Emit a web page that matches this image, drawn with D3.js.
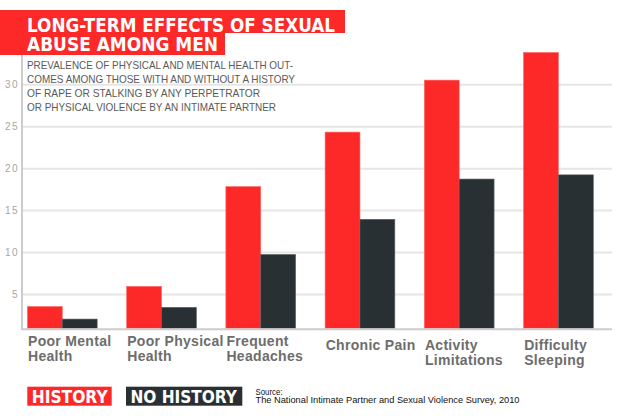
<!DOCTYPE html>
<html>
<head>
<meta charset="utf-8">
<script src="https://cdn.jsdelivr.net/npm/d3@7"></script>
<style>
  html, body { margin: 0; padding: 0; background: #fff; }
  svg { display: block; }
</style>
</head>
<body>
<svg id="chart" width="620" height="420"></svg>
<script>
// ---- data ----
const categories = [
  ["Poor Mental", "Health"],
  ["Poor Physical", "Health"],
  ["Frequent", "Headaches"],
  ["Chronic Pain"],
  ["Activity", "Limitations"],
  ["Difficulty", "Sleeping"]
];
const historyValues   = [3.5, 5.9, 17.8, 24.3, 30.5, 33.8];
const noHistoryValues = [2.0, 3.4, 9.7, 13.9, 18.7, 19.2];
const yTicks = [5, 10, 15, 20, 25, 30];
const seriesNames = ["HISTORY", "NO HISTORY"];
const titleLines = ["LONG-TERM EFFECTS OF SEXUAL", "ABUSE AMONG MEN"];
const subtitleLines = [
  "PREVALENCE OF PHYSICAL AND MENTAL HEALTH OUT-",
  "COMES AMONG THOSE WITH AND WITHOUT A HISTORY",
  "OF RAPE OR STALKING BY ANY PERPETRATOR",
  "OR PHYSICAL VIOLENCE BY AN INTIMATE PARTNER"
];
const sourceLines = ["Source:", "The National Intimate Partner and Sexual Violence Survey, 2010"];

// ---- styles ----
const RED = "#fd2929";
const DARK = "#283034";
const svg = d3.select("#chart");

const keys = categories.map(c => c.join(" "));
const x = d3.scaleBand().domain(keys).range([27.4, 593.3]).paddingInner(0.297).paddingOuter(0);
const xs = d3.scaleBand().domain([0, 1]).range([0, x.bandwidth()]);
const y = d3.scaleLinear().domain([0.9, 30]).range([328.3, 84.3]);

// gridlines + tick labels
const axis = d3.axisLeft(y).tickValues(yTicks).tickSize(-(612 - 22)).tickPadding(4);
const ga = svg.append("g").attr("transform", "translate(22,0)").call(axis);
ga.select(".domain").remove();
ga.selectAll(".tick line").attr("stroke", "#e6e6e6").attr("stroke-width", 2);
ga.selectAll(".tick text")
  .attr("fill", "#a6a6a6")
  .attr("font-family", "Liberation Sans, Arial, sans-serif")
  .attr("font-size", 10)
  .attr("letter-spacing", 1.4)
  .attr("x", -3);

// title bands
svg.append("rect").attr("x", 0).attr("y", 10).attr("width", 345).attr("height", 23).attr("fill", RED);
svg.append("rect").attr("x", 0).attr("y", 32).attr("width", 225).attr("height", 23).attr("fill", RED);
const titleLens = [308, 191];
svg.selectAll(".title").data(titleLines).enter().append("text")
  .attr("x", 27).attr("y", (d, i) => 31.5 + i * 19.5)
  .attr("fill", "#fff")
  .attr("font-family", "DejaVu Sans, sans-serif")
  .attr("font-weight", "bold")
  .attr("font-size", 20)
  .attr("textLength", (d, i) => titleLens[i])
  .attr("lengthAdjust", "spacingAndGlyphs")
  .text(d => d);

// axis vertical line
svg.append("line").attr("x1", 22).attr("x2", 22).attr("y1", 55).attr("y2", 330)
  .attr("stroke", "#cccccc").attr("stroke-width", 2);

// subtitle
const subLens = [266, 268, 233, 249];
svg.selectAll(".sub").data(subtitleLines).enter().append("text")
  .attr("x", 27).attr("y", (d, i) => 69 + i * 14)
  .attr("fill", "#5a5a5a")
  .attr("font-family", "Liberation Sans, Arial, sans-serif")
  .attr("font-size", 10.5)
  .attr("textLength", (d, i) => subLens[i])
  .attr("lengthAdjust", "spacingAndGlyphs")
  .text(d => d);

// bars
const groups = svg.selectAll(".grp").data(keys).enter().append("g")
  .attr("transform", d => `translate(${x(d)},0)`);
groups.append("rect")
  .attr("x", xs(0)).attr("width", xs.bandwidth())
  .attr("y", (d, i) => y(historyValues[i]))
  .attr("height", (d, i) => y(0.9) - y(historyValues[i]))
  .attr("fill", RED).attr("stroke", "#ff6a6a").attr("stroke-width", 0.6);
groups.append("rect")
  .attr("x", xs(1)).attr("width", xs.bandwidth())
  .attr("y", (d, i) => y(noHistoryValues[i]))
  .attr("height", (d, i) => y(0.9) - y(noHistoryValues[i]))
  .attr("fill", DARK).attr("stroke", "#5a6062").attr("stroke-width", 0.6);

// baseline
svg.append("line").attr("x1", 22).attr("x2", 612).attr("y1", 329.3).attr("y2", 329.3)
  .attr("stroke", "#cccccc").attr("stroke-width", 2);

// category labels
const labelBase = [346, 346, 346, 350, 350, 350];
groups.each(function(d, i) {
  const t = d3.select(this).append("text")
    .attr("fill", "#6d6d6d")
    .attr("font-family", "Liberation Sans, Arial, sans-serif")
    .attr("font-weight", "bold")
    .attr("font-size", 14)
    .attr("letter-spacing", 0.3);
  categories[i].forEach((line, j) => {
    t.append("tspan").attr("x", 0.6).attr("y", labelBase[i] + j * 14.5).text(line);
  });
});

// legend
const legX = [27.3, 126];
const legW = [84.4, 116.3];
const legTL = [76, 106.6];
const legColors = [RED, DARK];
seriesNames.forEach((s, i) => {
  svg.append("rect").attr("x", legX[i]).attr("y", 386.7).attr("width", legW[i]).attr("height", 19)
    .attr("fill", legColors[i]);
  svg.append("text").attr("x", legX[i] + 4.4).attr("y", 403.3)
    .attr("fill", "#fff")
    .attr("font-family", "DejaVu Sans, sans-serif")
    .attr("font-weight", "bold")
    .attr("font-size", 17)
    .attr("textLength", legTL[i])
    .attr("lengthAdjust", "spacingAndGlyphs")
    .text(s);
});

// source
const srcLens = [27, 264];
svg.selectAll(".src").data(sourceLines).enter().append("text")
  .attr("x", 255.5).attr("y", (d, i) => 394.5 + i * 8.6)
  .attr("fill", "#111")
  .attr("font-family", "Liberation Sans, Arial, sans-serif")
  .attr("font-size", 9)
  .attr("textLength", (d, i) => srcLens[i])
  .attr("lengthAdjust", "spacingAndGlyphs")
  .text(d => d);
</script>
</body>
</html>
